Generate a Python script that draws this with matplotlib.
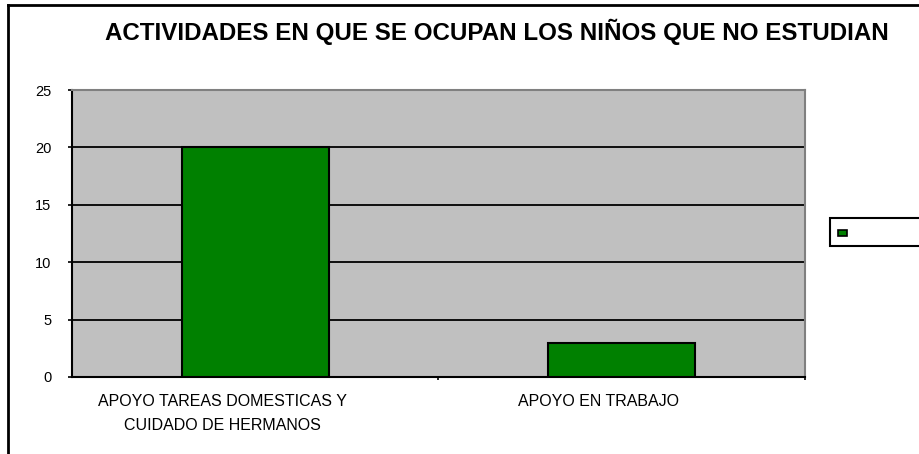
import matplotlib
matplotlib.use("Agg")
import matplotlib.pyplot as plt
from matplotlib.patches import Rectangle
from matplotlib.lines import Line2D
from matplotlib.transforms import ScaledTranslation

categories = ["APOYO TAREAS DOMESTICAS Y\nCUIDADO DE HERMANOS", "APOYO EN TRABAJO"]
values = [20, 3]
yticks = [0, 5, 10, 15, 20, 25]
title = "ACTIVIDADES EN QUE SE OCUPAN LOS NIÑOS QUE NO ESTUDIAN"

plt.rcParams['font.family'] = ['Liberation Sans', 'DejaVu Sans']

W, H = 920, 454
fig = plt.figure(figsize=(W / 100, H / 100), dpi=100)
fig.patch.set_facecolor('white')

ax = fig.add_axes([72 / W, 1 - 377 / H, (805 - 72) / W, (377 - 90) / H])
ax.set_facecolor('#c0c0c0')

x = list(range(len(categories)))
ax.bar(x, values, width=0.4, color='#008000', edgecolor='black', linewidth=1.5, zorder=3)

ax.set_xlim(-0.5, len(categories) - 0.5)
ax.set_ylim(0, 25)
ax.set_yticks(yticks)
ax.set_yticklabels([str(t) for t in yticks], fontsize=10.5)
ax.set_xticks(x)
ax.set_xticklabels(categories, fontsize=11.5, linespacing=1.75)
ax.tick_params(axis='x', length=0, pad=12)
ax.tick_params(axis='y', length=3, width=1.2, direction='out', pad=12)
# category boundary ticks
ax.set_xticks([0.5, 1.5], minor=True)
ax.tick_params(axis='x', which='minor', length=2, width=1.2, direction='out')

# labels sit slightly left of the bar centres in the original
shifts_px = [-33, -23]
for lbl, dx in zip(ax.get_xticklabels(), shifts_px):
    lbl.set_transform(lbl.get_transform() + ScaledTranslation(dx / 100, 0, fig.dpi_scale_trans))

for t in yticks[1:-1]:
    ax.axhline(t, color='black', linewidth=1.3, zorder=2)

ax.spines['top'].set_color('#808080')
ax.spines['top'].set_linewidth(1.5)
ax.spines['right'].set_color('#808080')
ax.spines['right'].set_linewidth(1.5)
ax.spines['left'].set_color('black')
ax.spines['left'].set_linewidth(1.5)
ax.spines['bottom'].set_color('black')
ax.spines['bottom'].set_linewidth(1.5)

fig.text(497 / W, 1 - 32 / H, title, fontsize=17.4, fontweight='bold',
         ha='center', va='center')

# outer chart frame (left and top edges visible)
fig.add_artist(Line2D([8 / W, 8 / W], [0, 1 - 5 / H], transform=fig.transFigure,
                      color='black', linewidth=2))
fig.add_artist(Line2D([8 / W, 1], [1 - 5 / H, 1 - 5 / H], transform=fig.transFigure,
                      color='black', linewidth=2))

# legend box (no label text)
fig.add_artist(Rectangle((830 / W, 1 - 246 / H), 100 / W, 28 / H,
                         transform=fig.transFigure, facecolor='white',
                         edgecolor='black', linewidth=1.5))
fig.add_artist(Rectangle((838 / W, 1 - 236 / H), 9 / W, 6 / H,
                         transform=fig.transFigure, facecolor='#008000',
                         edgecolor='black', linewidth=1.2))

fig.savefig("out.png", dpi=100)
